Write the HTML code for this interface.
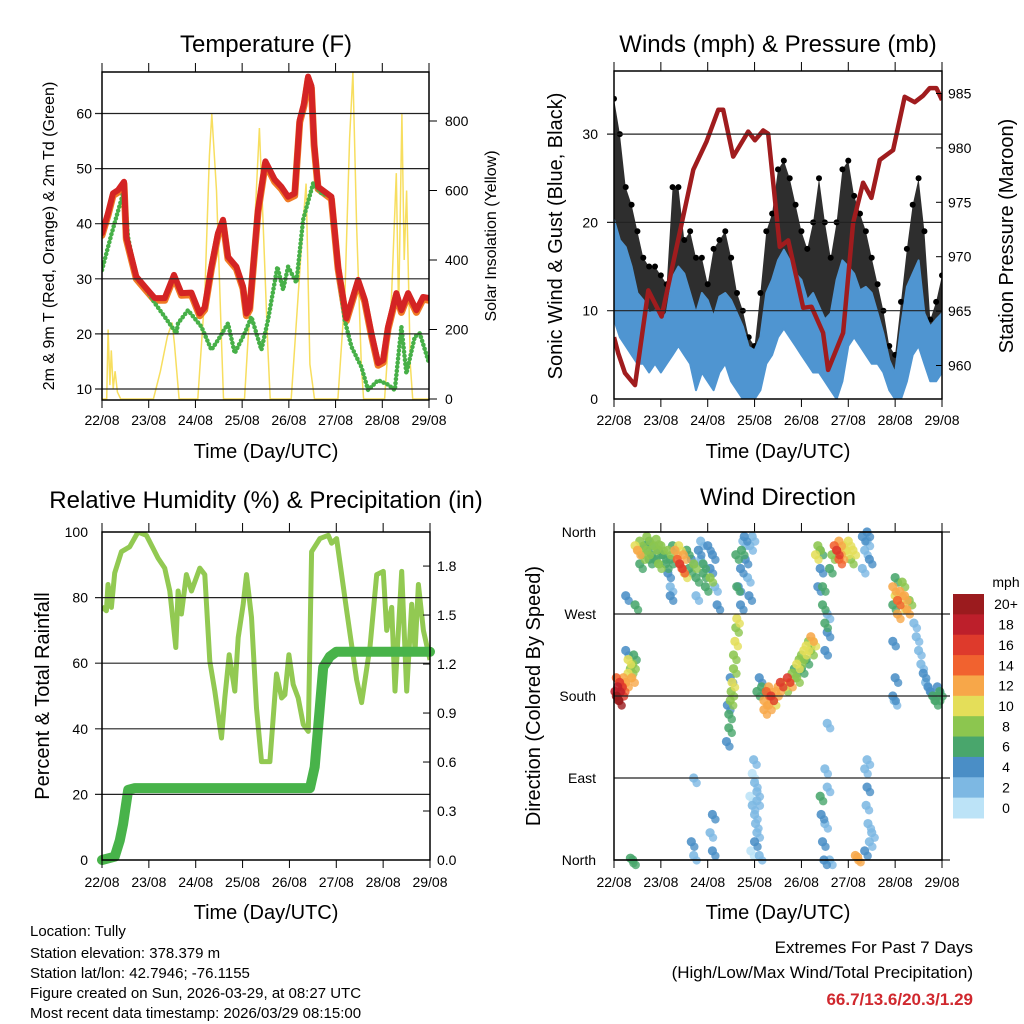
<!DOCTYPE html>
<html><head><meta charset="utf-8"><style>
html,body{margin:0;padding:0;background:#fff}
svg{display:block;font-family:"Liberation Sans",Arial,sans-serif}
</style></head><body>
<svg id="chart" width="1024" height="1024" viewBox="0 0 1024 1024">
<rect width="1024" height="1024" fill="#fff"/>
<g id="marks"></g>
<g id="axes"></g>
<g font-size="24" text-anchor="middle" fill="#000">
<text x="266" y="52">Temperature (F)</text>
<text x="778" y="52">Winds (mph) &amp; Pressure (mb)</text>
<text x="266" y="508">Relative Humidity (%) &amp; Precipitation (in)</text>
<text x="778" y="505">Wind Direction</text>
</g>
<g font-size="20" text-anchor="middle">
<text x="266" y="458">Time (Day/UTC)</text>
<text x="778" y="458">Time (Day/UTC)</text>
<text x="266" y="919">Time (Day/UTC)</text>
<text x="778" y="919">Time (Day/UTC)</text>
<text transform="translate(562,236) rotate(-90)">Sonic Wind &amp; Gust (Blue, Black)</text>
<text transform="translate(1013,236) rotate(-90)">Station Pressure (Maroon)</text>
<text transform="translate(49,696) rotate(-90)">Percent &amp; Total Rainfall</text>
<text transform="translate(540,696) rotate(-90)">Direction (Colored By Speed)</text>
</g>
<g font-size="16" text-anchor="middle">
<text transform="translate(54,236) rotate(-90)">2m &amp; 9m T (Red, Orange) &amp; 2m Td (Green)</text>
<text transform="translate(496,236) rotate(-90)">Solar Insolation (Yellow)</text>
</g>
<g font-size="15">
<text x="30" y="936">Location: Tully</text>
<text x="30" y="958">Station elevation: 378.379 m</text>
<text x="30" y="978">Station lat/lon: 42.7946; -76.1155</text>
<text x="30" y="998">Figure created on Sun, 2026-03-29, at 08:27 UTC</text>
<text x="30" y="1018">Most recent data timestamp: 2026/03/29 08:15:00</text>
</g>
<g font-size="17" text-anchor="end">
<text x="973" y="953">Extremes For Past 7 Days</text>
<text x="973" y="978">(High/Low/Max Wind/Total Precipitation)</text>
<text x="973" y="1005" font-weight="bold" fill="#d0282e">66.7/13.6/20.3/1.29</text>
</g>
</svg>
<script>
const days=["22/08","23/08","24/08","25/08","26/08","27/08","28/08","29/08"];
// Temperature
const tempT=[0,0.128,0.236,0.343,0.471,0.521,0.735,0.914,1.128,1.342,1.542,1.699,1.913,2.091,2.198,2.341,2.484,2.591,2.698,2.877,3.019,3.091,3.162,3.34,3.497,3.697,3.84,3.983,4.125,4.233,4.325,4.411,4.483,4.54,4.626,4.911,5.054,5.232,5.482,5.625,5.767,5.91,6.017,6.124,6.303,6.41,6.552,6.731,6.874,7.0];
const tempV=[38.3,41.9,45.5,46.1,47.6,37.6,30.4,28.6,26.5,26.5,30.7,27.4,27.5,23.7,24.8,32.2,38.3,40.7,34,32.2,28.6,23.7,24.8,42.5,51.3,48,46.7,44.9,45.5,58.8,61.8,66.7,65,54.6,46.7,44.9,32.2,22.8,29.8,26.2,20.1,14.7,15.2,21.3,27.4,24.3,27.4,24.3,26.7,26.5];
const dewT=[0,0.2,0.471,0.557,0.735,0.914,1.128,1.342,1.592,1.627,1.842,2.127,2.341,2.484,2.698,2.841,3.055,3.198,3.412,3.554,3.754,3.876,3.983,4.161,4.304,4.518,4.697,4.911,5.054,5.196,5.339,5.553,5.696,5.91,6.124,6.267,6.41,6.517,6.695,6.802,7.0];
const dewV=[31.6,38,46.1,37.6,30,28.6,25.6,23.1,20.1,21.9,24.3,21.3,17.1,18.9,21.9,16.5,20.1,23.1,17.1,22.5,32.2,28,32.2,29.3,40.7,47.3,45.5,44.9,31.6,22.5,17.7,14,9.8,11.6,10.8,9.8,21.3,12.8,19.5,20.1,14.7];
const solarT=[0,0.1,0.13,0.17,0.2,0.24,0.28,0.33,0.4,1.1,1.25,1.4,1.5,1.55,1.65,2.05,2.2,2.3,2.35,2.45,2.55,2.6,3.05,3.25,3.37,3.45,3.55,3.6,4.05,4.2,4.3,4.37,4.45,4.55,5.05,5.2,5.3,5.37,5.45,5.55,5.6,6.05,6.2,6.3,6.35,6.42,6.47,6.52,6.6,6.65,7.0];
const solarV=[0,0,200,40,140,30,80,20,0,0,80,180,220,160,0,0,300,700,820,600,200,0,0,450,780,500,150,0,0,300,500,620,100,0,0,300,750,940,500,100,0,0,300,650,250,820,400,600,100,0,0];
const tempTicks=[10,20,30,40,50,60];
const solarTicks=[0,200,400,600,800];
// Winds
const windT=[0,0.125,0.25,0.375,0.5,0.625,0.75,0.875,1,1.125,1.25,1.375,1.5,1.625,1.75,1.875,2,2.125,2.25,2.375,2.5,2.625,2.75,2.875,3,3.125,3.25,3.375,3.5,3.625,3.75,3.875,4,4.125,4.25,4.375,4.5,4.625,4.75,4.875,5,5.125,5.25,5.375,5.5,5.625,5.75,5.875,6,6.125,6.25,6.375,6.5,6.625,6.75,6.875,7];
const windHigh=[20.3,18,17.2,15,12,11.2,9.7,10,9,9.7,13.8,15,14.2,12,9.7,12,11.2,9.3,11.6,12,11.2,9.7,8.2,5.9,5.5,7,12,13.5,15.7,16.9,15.7,14.2,13.5,11.2,12,10.5,9,9.7,13.5,15.7,15,14.2,12.3,12.7,12,9.7,7.4,4.4,2.9,8.2,12.7,14.2,15.7,9.7,8.2,9,9.7];
const windLow=[9,7,6,5,4,4,3,4,3,4,5,6,5,4,1,3,2,1,3,4,2,1,0,0,0,1,4,5,7,8,7,6,5,4,3,3,2,1,0,2,6,7,6,5,4,4,3,1,0,0,2,5,6,4,2,2,3];
const gustV=[34,30,24,22,19,16,15,15,14,13,24,24,18,19,16,16,13,17,18,19,16,12,10,7,6,12,19,21,26,27,25,22,19,17,20,25,20,16,20,26,27,23,21,19,16,13,10,6,5,11,17,22,25,19,9,11,14];
const presT=[0,0.092,0.235,0.448,0.732,1.016,1.692,1.976,2.225,2.331,2.544,2.864,3.006,3.184,3.291,3.539,3.717,4.037,4.215,4.463,4.57,4.89,5.103,5.316,5.494,5.672,5.956,6.205,6.418,6.596,6.738,6.88,7.0];
const presV=[962.6,961.1,959.3,958.2,966.9,964.5,978,980.6,983.5,983.5,979.2,981.5,980.7,981.6,981.3,970.9,971.5,965.3,965.4,963,959.6,963,973.1,976.8,975.4,978.9,979.8,984.7,984.2,984.8,985.5,985.5,984.4];
const windTicks=[0,10,20,30];
const presTicks=[960,965,970,975,980,985];
// RH & precip
const rhT=[0,0.093,0.128,0.2,0.271,0.413,0.591,0.769,0.947,1.09,1.197,1.339,1.446,1.574,1.624,1.695,1.802,1.909,2.087,2.194,2.301,2.407,2.55,2.621,2.714,2.835,2.906,3.013,3.084,3.191,3.298,3.405,3.583,3.725,3.832,3.903,3.989,4.081,4.188,4.295,4.402,4.473,4.651,4.829,4.9,5.007,5.221,5.434,5.541,5.719,5.862,6.004,6.075,6.182,6.254,6.396,6.503,6.61,6.681,6.752,6.859,7.0];
const rhV=[77.2,76,84,77,87.5,94,95.5,100,99,95,92,89,82,64.8,82,75,87,82,89,87,60.6,51.5,37.2,49.4,62.6,51.5,67.8,78,87,74,46.3,30,30,56.7,49.4,50.4,62.6,53.5,49.4,41.3,39.2,94,98,99,96.6,98,76.2,55,48,65,87,88,70,77,51.5,88,51.5,78,64,84,70,61];
const precipT=[0,0.27,0.38,0.45,0.56,0.7,4.44,4.54,4.65,4.72,4.86,5.0,7.0];
const precipV=[0,0.02,0.12,0.22,0.43,0.44,0.44,0.57,0.94,1.18,1.245,1.275,1.275];
const rhTicks=[0,20,40,60,80,100];
const precipTicks=["0.0","0.3","0.6","0.9","1.2","1.5","1.8"];
// Wind direction
const dirT=[0.02,0.05,0.08,0.1,0.12,0.15,0.05,0.18,0.2,0.25,0.3,0.35,0.4,0.3,0.38,0.42,0.25,0.45,0.25,
0.45,0.5,0.55,0.6,0.65,0.7,0.75,0.8,0.85,0.9,0.95,1.0,1.05,1.1,1.15,1.2,1.25,0.55,0.75,0.95,1.15,1.2,1.2,0.7,0.9,
1.3,1.35,1.4,1.45,1.48,1.5,1.55,1.38,1.6,1.65,
1.7,1.75,1.8,1.85,1.9,1.95,2.0,2.05,2.1,2.15,2.2,1.85,1.75,2.05,1.9,
2.1,2.05,1.7,1.65,1.7,2.1,0.35,0.4,
2.4,2.45,2.45,2.48,2.5,2.52,2.55,2.55,2.58,2.6,2.62,2.42,2.48,
2.65,2.7,2.72,2.75,2.78,2.8,2.85,2.88,2.9,2.95,2.7,2.6,2.62,
2.9,2.95,3.0,3.05,3.0,3.02,2.95,3.05,3.0,2.92,2.98,3.1,3.05,
3.05,3.1,3.15,3.2,3.25,3.3,3.35,3.4,3.45,3.5,3.55,3.3,3.2,
3.6,3.65,3.7,3.75,3.8,3.85,3.9,3.95,4.0,4.05,4.1,4.15,4.2,4.25,3.9,4.0,4.1,4.2,
4.3,4.35,4.4,4.4,4.45,4.45,4.5,4.55,4.5,4.35,4.55,
4.4,4.42,4.45,4.5,4.5,4.55,4.48,4.6,4.55,
4.7,4.75,4.8,4.85,4.9,4.95,5.0,5.05,5.1,4.8,4.65,4.6,
5.3,5.35,5.4,5.45,5.3,5.4,5.15,5.2,
5.35,5.4,5.38,5.42,5.45,5.35,5.4,5.5,
5.95,6.0,6.05,6.1,6.15,6.2,6.25,6.3,6.0,5.95,6.05,6.15,
5.95,5.95,6.0,5.98,
6.4,6.45,6.5,6.55,6.6,6.65,6.7,6.75,6.8,6.85,6.9,6.95,6.9];
const dirD=[185,180,190,175,195,185,200,190,200,195,205,210,215,220,200,225,230,280,290,
345,340,350,335,345,340,350,335,345,330,340,345,335,325,340,330,345,325,330,325,315,300,290,355,352,
340,330,325,320,335,315,340,345,320,330,
325,310,340,330,315,300,345,320,335,300,280,350,290,310,325,
50,30,90,20,5,10,2,0,
130,145,160,175,185,195,210,225,240,255,265,170,200,
300,320,340,350,355,330,310,290,345,355,280,335,300,
70,60,50,75,85,40,95,30,20,10,110,5,65,
185,200,190,175,185,170,180,175,185,190,195,190,165,
195,190,200,195,205,210,215,220,225,230,235,240,245,240,200,210,220,230,
335,345,340,320,300,280,260,250,230,300,270,
70,50,20,40,100,80,0,0,150,
345,340,350,335,345,340,350,330,340,330,335,320,
355,340,350,330,320,360,5,3,
100,80,60,40,20,10,110,30,
300,290,285,295,280,290,275,285,310,280,270,305,
240,180,200,175,
260,245,230,215,205,195,190,185,180,175,180,185,190];
const dirS=[19,20,18,21,16,17,15,14,13,12,10,9,8,10,12,7,4,7,4,
10,12,8,9,7,8,6,7,8,6,7,8,6,7,8,7,6,6,7,8,5,3,4,8,9,
12,14,16,14,12,10,7,11,6,5,
8,7,4,3,7,6,4,4,5,3,4,2,2,8,6,
4,3,3,4,3,4,6,7,
4,6,7,9,8,10,8,9,10,8,10,4,5,
5,4,6,3,5,4,3,5,2,2,4,7,7,
1,2,2,2,3,3,1,3,4,1,2,2,2,
6,4,7,12,14,12,16,11,13,12,16,12,13,
10,9,16,12,9,7,10,8,9,10,11,8,12,10,8,6,7,9,
11,8,6,5,6,7,6,4,4,4,3,
6,4,4,3,2,3,5,3,2,
14,16,13,12,10,11,10,9,10,14,9,7,
4,3,2,4,3,4,12,13,
3,4,2,3,2,4,2,2,
12,10,14,12,11,13,12,8,7,6,12,9,
4,4,4,3,
2,3,2,3,4,3,4,5,6,7,6,6,5];
const dirLabels=["North","West","South","East","North"];
const dirTicks=[360,270,180,90,0];
const cbLabels=["20+","18","16","14","12","10","8","6","4","2","0"];
const cbColors=["#9b1b1e","#bd1f2b","#de3a2c","#f1622f","#f7a749","#e4de59","#8cc64f","#49a66c","#4a8ec6","#7db8e3","#bce3f7"];

const NS="http://www.w3.org/2000/svg";
const marks=document.getElementById('marks'), axes=document.getElementById('axes');
function mk(tag,attrs,parent){const e=document.createElementNS(NS,tag);for(const k in attrs)e.setAttribute(k,attrs[k]);(parent||marks).appendChild(e);return e;}
function xs(x0,x1){return d=>x0+d*(x1-x0)/7;}
const x1s=xs(102,429), x2s=xs(614,942), x3s=xs(102,430), x4s=xs(614,942);
const tY=v=>389-(v-10)*5.51, sY=v=>399-v*0.3475;
const wY=v=>399-v*8.83, pY=v=>93.5+(985-v)*10.88;
const rY=v=>860-v*3.28, prY=v=>860-v*163.3;
const dY=d=>860-d/360*328;
function pts(T,V,xf,yf){return T.map((t,i)=>xf(t).toFixed(1)+","+yf(V[i]).toFixed(1)).join(" ");}

const defs=mk('defs',{});
[[1,102,72,327,328],[2,614,71,328,328],[3,102,532,328,328],[4,614,532,328,328]].forEach(c=>{const cp=mk('clipPath',{id:'c'+c[0]},defs);mk('rect',{x:c[1],y:c[2],width:c[3],height:c[4]},cp);});

function frame(n,x0,y0,x1,y1,grid,gridExt){
  const g=mk('g',{},axes);
  
  
  grid.forEach(y=>mk('line',{x1:x0-(gridExt?0:7),x2:x1+(gridExt||0),y1:y,y2:y,stroke:'#222','stroke-width':1.2},g));
  mk('rect',{x:x0,y:y0,width:x1-x0,height:y1-y0,fill:'none',stroke:'#000','stroke-width':1.5},g);
  for(let i=0;i<=7;i++){const x=x0+i*(x1-x0)/7;mk('line',{x1:x,x2:x,y1:y0,y2:y0-9,stroke:'#000','stroke-width':1},g);mk('line',{x1:x,x2:x,y1:y1,y2:y1+8,stroke:'#000','stroke-width':1},g);}
  return g;
}
function label(txt,x,y,anchor,size,name){const t=mk('text',{x:x,y:y,'text-anchor':anchor,'font-size':size},axes);t.textContent=txt;


return t;}

frame(1,102,72,429,400,tempTicks.map(tY));
tempTicks.forEach(v=>label(String(v),92,tY(v)+5,'end',14,'temp-tick'));
solarTicks.forEach(v=>{label(String(v),445,sY(v)+5,'start',14,'solar-tick');mk('line',{x1:429,x2:437,y1:sY(v),y2:sY(v),stroke:'#000'},axes);});
days.forEach((d,i)=>label(d,x1s(i),425,'middle',14,'temp-x-tick'));
frame(2,614,71,942,399,windTicks.slice(1).map(wY));
windTicks.forEach(v=>label(String(v),598,wY(v)+5,'end',14,'wind-tick'));
presTicks.forEach(v=>{label(String(v),948,pY(v)+5,'start',14,'pressure-tick');mk('line',{x1:942,x2:936,y1:pY(v),y2:pY(v),stroke:'#000'},axes);});
days.forEach((d,i)=>label(d,x2s(i),425,'middle',14,'wind-x-tick'));
frame(3,102,532,430,860,rhTicks.slice(1,5).map(rY));
rhTicks.forEach(v=>label(String(v),88,rY(v)+5,'end',14,'rh-tick'));
precipTicks.forEach(v=>{label(v,437,prY(parseFloat(v))+5,'start',14,'precip-tick');mk('line',{x1:430,x2:423,y1:prY(parseFloat(v)),y2:prY(parseFloat(v)),stroke:'#000'},axes);});
days.forEach((d,i)=>label(d,x3s(i),887,'middle',14,'rh-x-tick'));
frame(4,614,532,942,860,dirTicks.map(dY),8);
dirLabels.forEach((l,i)=>label(l,596,dY(dirTicks[i])+5,'end',14,'direction-tick'));
days.forEach((d,i)=>label(d,x4s(i),887,'middle',14,'dir-x-tick'));

// solar
const sg=mk('g',{'clip-path':'url(#c1)'});
const solarLine=mk('polyline',{points:pts(solarT,solarV,x1s,sY),fill:'none',stroke:'#f6d843','stroke-width':1.5,'stroke-opacity':0.85},sg);


const tg=mk('g',{'clip-path':'url(#c1)'});
const orangeLine=mk('polyline',{points:pts(tempT,tempV.map(v=>v-0.4),x1s,tY),fill:'none',stroke:'#f07a25','stroke-width':7,'stroke-linejoin':'round','stroke-linecap':'round'},tg);


const dewLine=mk('polyline',{points:pts(dewT,dewV,x1s,tY),fill:'none',stroke:'#47b048','stroke-width':4.5,'stroke-dasharray':'0.1 4','stroke-linecap':'round','stroke-linejoin':'round'},tg);


const redLine=mk('polyline',{points:pts(tempT,tempV,x1s,tY),fill:'none',stroke:'#d42424','stroke-width':6,'stroke-linejoin':'round','stroke-linecap':'round'},tg);



// winds
const wg=mk('g',{'clip-path':'url(#c2)'});
const gustArea=mk('polygon',{points:pts(windT,gustV,x2s,wY)+" "+pts(windT.slice().reverse(),windLow.slice().reverse(),x2s,wY),fill:'#000','fill-opacity':0.82},wg);


windT.forEach((t,i)=>{const c=mk('circle',{cx:x2s(t),cy:wY(gustV[i]),r:3,fill:'#000'},wg);

});
const windArea=mk('polygon',{points:pts(windT,windHigh,x2s,wY)+" "+pts(windT.slice().reverse(),windLow.slice().reverse(),x2s,wY),fill:'#4f95d1',stroke:'#4f95d1','stroke-width':2,'stroke-linejoin':'round'},wg);


const presLine=mk('polyline',{points:pts(presT,presV,x2s,pY),fill:'none',stroke:'#a01c1e','stroke-width':4.5,'stroke-linejoin':'round'},wg);



// RH & precip
const rg=mk('g',{'clip-path':'url(#c3)'});
const rhLine=mk('polyline',{points:pts(rhT,rhV,x3s,rY),fill:'none',stroke:'#92c952','stroke-width':5,'stroke-linejoin':'round'},rg);


const prLine=mk('polyline',{points:pts(precipT,precipV,x3s,prY),fill:'none',stroke:'#48b34a','stroke-width':10,'stroke-linejoin':'round','stroke-linecap':'round'},marks);



// wind direction scatter
const dg=mk('g',{});
function spColor(s){let b=Math.floor(s/2);if(b>10)b=10;return cbColors[10-b];}
const order=dirS.map((s,i)=>i).sort((a,b)=>dirS[a]-dirS[b]);
order.forEach(i=>{const c=mk('circle',{cx:x4s(dirT[i]),cy:dY(dirD[i]),r:4.6,fill:spColor(dirS[i]),'fill-opacity':0.88},dg);


const c2=mk('circle',{cx:x4s(dirT[i])+3,cy:dY(dirD[i])+5,r:4.2,fill:spColor(dirS[i]),'fill-opacity':0.8},dg);

});

// colorbar
const cb=mk('g',{},axes);


const bh=224/11;
cbColors.forEach((c,i)=>{const r=mk('rect',{x:953,y:594+i*bh,width:31,height:bh+0.5,fill:c},cb);


label(cbLabels[i],1006,594+i*bh+bh/2+5,'middle',14,'colorbar-label');});
label('mph',1006,587,'middle',14,'colorbar-unit');
</script>
</body></html>
